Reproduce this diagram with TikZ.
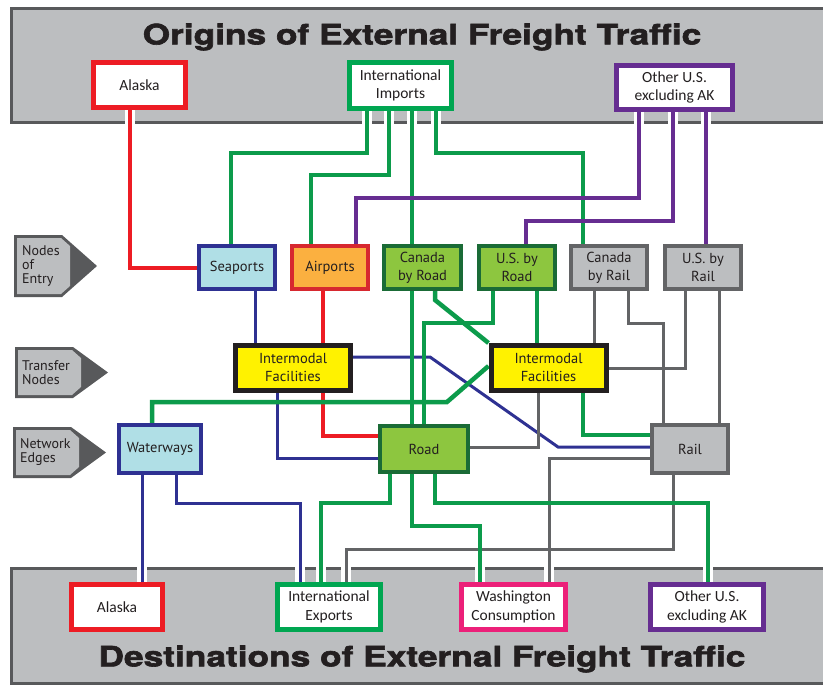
\documentclass[tikz,border=0pt]{standalone}
\usepackage{fontspec}
\setmainfont{PT Sans}
\newfontfamily\boxfont{PT Sans}
\newfontfamily\condfont{Carlito}
\newfontfamily\titlefont{TeX Gyre Heros}[BoldFeatures={FakeBold=2.2,FakeStretch=1.26}]
\definecolor{txt}{HTML}{231F20}
\definecolor{bandfill}{HTML}{BCBEC0}
\definecolor{bandline}{HTML}{58595B}
\definecolor{cred}{HTML}{ED1C24}
\definecolor{cgreen}{HTML}{0C9B4B}
\definecolor{cgreenbox}{HTML}{00A651}
\definecolor{cpurple}{HTML}{662D91}
\definecolor{cblue}{HTML}{2E3192}
\definecolor{cgrey}{HTML}{636466}
\definecolor{cpink}{HTML}{EC2079}
\definecolor{lblue}{HTML}{B0DFE6}
\definecolor{orangef}{HTML}{FBB040}
\definecolor{airred}{HTML}{D7282F}
\definecolor{lgreen}{HTML}{8DC63F}
\definecolor{dgreen}{HTML}{1A6B36}
\definecolor{yellowf}{HTML}{FFF200}
\pgfdeclarelayer{back}
\pgfdeclarelayer{bg}
\pgfsetlayers{back,bg,main}
\begin{document}
\begin{tikzpicture}[x=1pt,y=-1pt,
  base/.style={rectangle, inner sep=0pt, align=center, text=txt},
  wbox/.style={base, fill=white, line width=5pt, font=\condfont\fontsize{15.5}{18.5}\selectfont},
  mbox/.style={base, line width=4pt, font=\boxfont\fontsize{14.5}{18}\selectfont},
  ibox/.style={base, fill=yellowf, draw=txt, line width=5pt, minimum width=115pt, minimum height=45pt, font=\boxfont\fontsize{14.5}{18}\selectfont},
  gbox/.style={mbox, fill=lgreen, draw=dgreen},
  rbox/.style={mbox, fill=bandfill, draw=cgrey},
  lbl/.style={inner sep=0pt, align=left, text=txt, anchor=west, font=\boxfont\fontsize{14}{14}\selectfont},
  ttl/.style={inner sep=0pt, text=txt, font=\titlefont\bfseries\fontsize{28}{30}\selectfont},
  band/.style={fill=bandfill, draw=bandline, line width=3pt},
  casing/.style={draw=white, line width=10pt},
  conn/.style={line join=miter},
  redl/.style={conn, draw=cred, line width=4pt},
  grnl/.style={conn, draw=cgreen, line width=4.5pt},
  purl/.style={conn, draw=cpurple, line width=4pt},
  bluel/.style={conn, draw=cblue, line width=3pt},
  grayl/.style={conn, draw=cgrey, line width=3pt},
  post/.style={fill=bandline},
  postin/.style={fill=bandfill}]
\useasboundingbox (0,0) rectangle (823,685);

% ---------- nodes ----------
\node[wbox, draw=cred, minimum width=92pt, minimum height=45pt] (alaskaO) at (139.5,85) {Alaska};
\node[wbox, draw=cgreenbox, minimum width=102pt, minimum height=46pt] (imp) at (400.5,85.5) {International\\Imports};
\node[wbox, draw=cpurple, minimum width=116pt, minimum height=44pt] (othO) at (674.5,87.5) {Other U.S.\\excluding AK};

\node[wbox, draw=cred, minimum width=91pt, minimum height=45pt] (alaskaD) at (117,607) {Alaska};
\node[wbox, draw=cgreenbox, minimum width=103pt, minimum height=45pt] (exports) at (329,607) {International\\Exports};
\node[wbox, draw=cpink, minimum width=104pt, minimum height=45pt] (wash) at (513.5,607) {Washington\\Consumption};
\node[wbox, draw=cpurple, minimum width=113pt, minimum height=45pt] (othD) at (707,607) {Other U.S.\\excluding AK};

\node[mbox, fill=lblue, draw=cblue, minimum width=76pt, minimum height=43pt] (seap) at (237,267.5) {Seaports};
\node[mbox, fill=orangef, draw=airred, minimum width=76pt, minimum height=43pt] (airp) at (330,267.5) {Airports};
\node[gbox, minimum width=77pt, minimum height=43pt] (canroad) at (422.5,267.5) {Canada\\by Road};
\node[gbox, minimum width=76pt, minimum height=43pt] (usroad) at (517,267.5) {U.S. by\\Road};
\node[rbox, minimum width=76pt, minimum height=43pt] (canrail) at (609,267.5) {Canada\\by Rail};
\node[rbox, minimum width=76pt, minimum height=43pt] (usrail) at (703,267.5) {U.S. by\\Rail};

\node[ibox] (interL) at (293,368) {Intermodal\\Facilities};
\node[ibox] (interR) at (548.5,368) {Intermodal\\Facilities};

\node[mbox, fill=lblue, draw=cblue, minimum width=82pt, minimum height=48pt] (water) at (160,449) {Waterways};
\node[gbox, minimum width=88pt, minimum height=46pt] (road) at (424,449) {Road};
\node[rbox, minimum width=76pt, minimum height=48pt] (rail) at (690,449) {Rail};

% ---------- side labels ----------
\fill[post] (14,235) -- (62,235) -- (97,266) -- (62,297) -- (14,297) -- cycle;
\fill[postin] (17,238) -- (61,238) -- (70,246) -- (70,286) -- (61,294) -- (17,294) -- cycle;
\node[lbl] (noe) at (22,266) {Nodes\\of\\Entry};

\fill[post] (15,347) -- (73,347) -- (108,372.5) -- (73,398) -- (15,398) -- cycle;
\fill[postin] (18,350) -- (72,350) -- (81,358) -- (81,387) -- (72,395) -- (18,395) -- cycle;
\node[lbl] (tn) at (22,372.5) {Transfer\\Nodes};

\fill[post] (13,427) -- (71,427) -- (106,452.5) -- (71,478) -- (13,478) -- cycle;
\fill[postin] (16,430) -- (70,430) -- (79,438) -- (79,467) -- (70,475) -- (16,475) -- cycle;
\node[lbl] (ne) at (20,452.5) {Network\\Edges};

% ---------- bands ----------
\begin{pgfonlayer}{back}
\filldraw[band] (11,9) rectangle (840,122.5);
\filldraw[band] (11,568.5) rectangle (840,683);
\node[ttl] (ttop) at (422,37) {Origins of External Freight Traffic};
\node[ttl] (tbot) at (422,659) {Destinations of External Freight Traffic};
\end{pgfonlayer}

% ---------- connectors ----------
\begin{pgfonlayer}{bg}
% white casings where lines cross the bands
\draw[casing] ([xshift=-9.5pt]alaskaO.south) -- ++(0,18);
\draw[casing] ([xshift=-33.5pt]imp.south) -- ++(0,18);
\draw[casing] ([xshift=-11.5pt]imp.south) -- ++(0,18);
\draw[casing] ([xshift=11.5pt]imp.south) -- ++(0,18);
\draw[casing] ([xshift=35.5pt]imp.south) -- ++(0,18);
\draw[casing] ([xshift=-35.5pt]othO.south) -- ++(0,18);
\draw[casing] ([xshift=-1.5pt]othO.south) -- ++(0,18);
\draw[casing] ([xshift=31.5pt]othO.south) -- ++(0,18);
\draw[casing] ([xshift=25pt]alaskaD.north) -- ++(0,-20);
\draw[casing] ([xshift=-29pt]exports.north) -- ++(0,-20);
\draw[casing] ([xshift=-8pt]exports.north) -- ++(0,-20);
\draw[casing] ([xshift=17pt]exports.north) -- ++(0,-20);
\draw[casing] ([xshift=-33.5pt]wash.north) -- ++(0,-20);
\draw[casing] ([xshift=35.5pt]wash.north) -- ++(0,-20);
\draw[casing] ([xshift=1pt]othD.north) -- ++(0,-20);

% origins
\draw[redl] ([xshift=-9.5pt]alaskaO.south) |- (seap.west);
\draw[grnl] ([xshift=-33.5pt]imp.south) |- (231,153) -- ([xshift=-6pt]seap.north);
\draw[grnl] ([xshift=-11.5pt]imp.south) |- (311,175) -- ([xshift=-19pt]airp.north);
\draw[grnl] ([xshift=11.5pt]imp.south) -- ([xshift=-10.5pt]canroad.north);
\draw[grnl] ([xshift=35.5pt]imp.south) |- (583,153) -- ([xshift=-26pt]canrail.north);
\draw[purl] ([xshift=-35.5pt]othO.south) |- (356,198) -- ([xshift=26pt]airp.north);
\draw[purl] ([xshift=-1.5pt]othO.south) |- (526,221) -- ([xshift=9pt]usroad.north);
\draw[purl] ([xshift=31.5pt]othO.south) -- ([xshift=3pt]usrail.north);

% entry to transfer / edges
\draw[bluel] ([xshift=18pt]seap.south) -- ([xshift=-38pt]interL.north);
\draw[redl] ([xshift=-7pt]airp.south) -- ([xshift=30pt]interL.north);
\draw[redl] ([xshift=30pt]interL.south) |- ([yshift=13pt]road.west);
\draw[bluel] ([xshift=-16pt]interL.south) |- ([yshift=-9pt]road.west);
\draw[bluel] ([yshift=11pt]interL.east) -- (430,357) -- (558,447) -- ([yshift=2pt]rail.west);
\draw[grnl] ([xshift=-10.5pt]canroad.south) -- ([xshift=-12pt]road.north);
\draw[grnl] ([xshift=12.5pt]canroad.south) -- (435,300) -- (interR.north west);
\draw[grnl] ([xshift=-24pt]usroad.south) |- (424,323) -- (road.north);
\draw[grnl] ([xshift=20pt]usroad.south) -- ([xshift=-11.5pt]interR.north);
\draw[grayl] ([xshift=-15pt]canrail.south) -- ([xshift=45.5pt]interR.north);
\draw[grayl] ([xshift=19pt]canrail.south) |- (663,323) -- ([xshift=-27pt]rail.north);
\draw[grayl] ([xshift=-18pt]usrail.south) |- (interR.east);
\draw[grayl] ([xshift=16pt]usrail.south) -- ([xshift=29pt]rail.north);
\draw[grnl] ([yshift=2pt]interR.west) -- (447,402) -| ([xshift=-8pt]water.north);
\draw[grayl] ([xshift=-10.5pt]interR.south) |- ([yshift=2pt]road.east);
\draw[grnl] ([xshift=34.5pt]interR.south) |- ([yshift=14pt]rail.west);

% to destinations
\draw[grayl] ([yshift=-9pt]rail.west) -| ([xshift=35.5pt]wash.north);
\draw[grayl] ([xshift=-17pt]rail.south) |- (346,549) -- ([xshift=17pt]exports.north);
\draw[grnl] ([xshift=-34pt]road.south) |- (321,503) -- ([xshift=-8pt]exports.north);
\draw[grnl] ([xshift=-12pt]road.south) |- (480,526) -- ([xshift=-33.5pt]wash.north);
\draw[grnl] ([xshift=11pt]road.south) |- (708,503) -- ([xshift=1pt]othD.north);
\draw[bluel] ([xshift=-18pt]water.south) -- ([xshift=25pt]alaskaD.north);
\draw[bluel] ([xshift=16pt]water.south) |- (300,503) -- ([xshift=-29pt]exports.north);
\end{pgfonlayer}
\end{tikzpicture}
\end{document}
